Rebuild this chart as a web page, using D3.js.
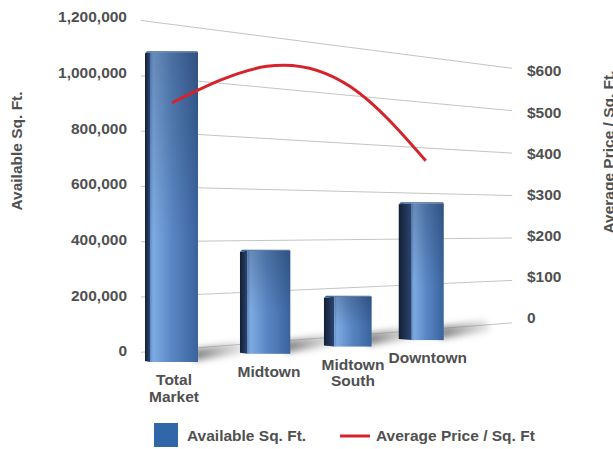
<!DOCTYPE html>
<html>
<head>
<meta charset="utf-8">
<script src="https://cdn.jsdelivr.net/npm/d3@7"></script>
<style>
  body { margin: 0; background: #fff; }
  svg { display: block; font-family: "Liberation Sans", Arial, sans-serif; font-weight: bold; }
</style>
</head>
<body>
<div id="wrapper"></div>
<script>
// data
const categories = ["Total Market", "Midtown", "Midtown South", "Downtown"];
const categoryLines = [["Total", "Market"], ["Midtown"], ["Midtown", "South"], ["Downtown"]];
const availableSqFt = [1100000, 390000, 200000, 580000];
const avgPrice = [460, 543, 520, 380];
const leftTicks = [0, 200000, 400000, 600000, 800000, 1000000, 1200000];
const rightTicks = [0, 100, 200, 300, 400, 500, 600];

const width = 613, height = 449;
const textColor = "#505050";

const svg = d3.select("#wrapper").append("svg")
    .attr("width", width)
    .attr("height", height);

const defs = svg.append("defs");

const frontGrad = defs.append("linearGradient").attr("id", "front");
frontGrad.append("stop").attr("offset", "0").attr("stop-color", "#5d8dcc");
frontGrad.append("stop").attr("offset", "0.07").attr("stop-color", "#7eaae2");
frontGrad.append("stop").attr("offset", "0.45").attr("stop-color", "#5a87c4");
frontGrad.append("stop").attr("offset", "1").attr("stop-color", "#3a639d");

const sideGrad = defs.append("linearGradient").attr("id", "side");
sideGrad.append("stop").attr("offset", "0").attr("stop-color", "#131f33");
sideGrad.append("stop").attr("offset", "1").attr("stop-color", "#2b4674");

const shadeGrad = defs.append("linearGradient").attr("id", "shade")
    .attr("x1", 0).attr("x2", 0).attr("y1", 0).attr("y2", 1);
shadeGrad.append("stop").attr("offset", "0").attr("stop-color", "#000").attr("stop-opacity", 0.18);
shadeGrad.append("stop").attr("offset", "0.6").attr("stop-color", "#000").attr("stop-opacity", 0);

const shadowGrad = defs.append("linearGradient").attr("id", "shadowfade");
shadowGrad.append("stop").attr("offset", "0").attr("stop-color", "#6e6e6e").attr("stop-opacity", 0.9);
shadowGrad.append("stop").attr("offset", "1").attr("stop-color", "#9a9a9a").attr("stop-opacity", 0.2);

defs.append("filter").attr("id", "blur")
    .attr("x", "-50%").attr("y", "-50%").attr("width", "200%").attr("height", "200%")
    .append("feGaussianBlur").attr("stdDeviation", 3);

// back wall: value -> y at its left and right edges
const wallLeft = d3.scaleLinear().domain([0, 1200000]).range([352, 21]);
const wallRight = d3.scaleLinear().domain([0, 1200000]).range([323, 68]);
const wallT = d3.scaleLinear().domain([145, 510]).range([0, 1]);
const wallY = (v, x) => {
    const t = wallT(x);
    return wallLeft(v) + (wallRight(v) - wallLeft(v)) * t;
};
const priceToWall = d3.scaleLinear().domain([0, 600]).range([0, 1200000]);

// front (bar) plane
const floorY = d3.scaleLinear().domain([174, 429]).range([362, 340]);
const depthGain = 1.04;
const barH = (v, x) => (wallY(0, x) - wallY(v, x)) * depthGain;

// categories along a receding floor
const catIndex = d3.scalePoint().domain(categories).range([0, 3]);
const persp = (i) => 145 + 101.2 * i / (1 + 0.0655 * i);
const sideW = d3.scaleLinear().domain([0, 3]).range([5, 13]);
const frontW = d3.scaleLinear().domain([0, 3]).range([48, 32]);

const bars = categories.map((c, i) => {
    const k = catIndex(c);
    const x = persp(k);
    const sw = sideW(k), fw = frontW(k);
    const fx = x + sw;
    const cx = fx + fw / 2;
    const bottom = floorY(cx);
    const top = bottom - barH(availableSqFt[i], cx);
    return { c, i, x, sw, fw, fx, cx, bottom, top, lines: categoryLines[i] };
});

// gridlines
const gx0 = 141, gx1 = 512;
svg.append("g").selectAll("line")
    .data(leftTicks)
    .join("line")
    .attr("x1", gx0).attr("y1", d => wallY(d, gx0))
    .attr("x2", gx1).attr("y2", d => wallY(d, gx1))
    .attr("stroke", "#c4c4c4")
    .attr("stroke-width", 1);

// axis labels
const leftLabel = d3.scaleLinear().domain([0, 1200000]).range([351, 17]);
const rightLabel = d3.scaleLinear().domain([0, 600]).range([318, 71]);

const yAxisL = svg.append("g")
    .attr("transform", "translate(127,0)")
    .call(d3.axisLeft(leftLabel).tickValues(leftTicks).tickSize(0).tickPadding(0).tickFormat(d3.format(",")));
const yAxisR = svg.append("g")
    .attr("transform", "translate(527,0)")
    .call(d3.axisRight(rightLabel).tickValues(rightTicks).tickSize(0).tickPadding(0)
        .tickFormat(d => d === 0 ? "0" : "$" + d));
[yAxisL, yAxisR].forEach(a => {
    a.select(".domain").remove();
    a.selectAll("text")
        .attr("fill", textColor)
        .style("font-size", "15.5px")
        .style("font-family", "'Liberation Sans', Arial, sans-serif")
        .style("font-weight", "bold");
});

// shadows on the floor
svg.append("g").attr("filter", "url(#blur)").selectAll("path")
    .data(bars)
    .join("path")
    .attr("d", b => {
        const xr = b.fx + b.fw;
        return `M${xr - 4},${b.bottom - 1} L${xr - 4},${b.bottom - 13} L${xr + 42},${b.bottom - 20} L${xr + 48},${b.bottom - 9} Z`;
    })
    .attr("fill", "url(#shadowfade)");

// bars
const barG = svg.append("g").selectAll("g")
    .data(bars)
    .join("g");

barG.append("path")
    .attr("d", b => `M${b.x},${b.top + 1} L${b.fx},${b.top} L${b.fx},${b.bottom} L${b.x},${b.bottom - 1} Z`)
    .attr("fill", "url(#side)");

barG.append("rect")
    .attr("x", b => b.fx)
    .attr("y", b => b.top)
    .attr("width", b => b.fw)
    .attr("height", b => b.bottom - b.top)
    .attr("fill", "url(#front)");

barG.append("rect")
    .attr("x", b => b.fx)
    .attr("y", b => b.top)
    .attr("width", b => b.fw)
    .attr("height", b => b.bottom - b.top)
    .attr("fill", "url(#shade)");

barG.append("path")
    .attr("d", b => `M${b.x},${b.top + 1} L${b.x + 2},${b.top - 1} L${b.fx + b.fw - 1},${b.top - 1} L${b.fx + b.fw},${b.top} L${b.fx},${b.top} Z`)
    .attr("fill", "#3f6499");

// price line
const linePts = bars.map((b, i) => {
    const x = b.cx - 2;
    return [x, floorY(x) - barH(priceToWall(avgPrice[i]), x)];
});
svg.append("path")
    .attr("d", d3.line().curve(d3.curveNatural)(linePts))
    .attr("fill", "none")
    .attr("stroke", "#d6232b")
    .attr("stroke-width", 3);

// category labels
const catG = svg.append("g").selectAll("text")
    .data(bars)
    .join("text")
    .attr("text-anchor", "middle")
    .attr("fill", textColor)
    .style("font-size", "15.5px");
catG.selectAll("tspan")
    .data(b => b.lines.map((t, j) => ({ t, j, b })))
    .join("tspan")
    .attr("x", d => d.b.cx)
    .attr("y", d => d.b.bottom + 23 + d.j * 16.5)
    .text(d => d.t);

// axis titles
svg.append("text")
    .attr("transform", "translate(22,151) rotate(-90)")
    .attr("text-anchor", "middle")
    .attr("fill", textColor)
    .style("font-size", "15.5px")
    .text("Available Sq. Ft.");

svg.append("text")
    .attr("transform", "translate(614,152) rotate(-90)")
    .attr("text-anchor", "middle")
    .attr("fill", textColor)
    .style("font-size", "15.5px")
    .text("Average Price / Sq. Ft.");

// legend
const legend = svg.append("g");
legend.append("rect")
    .attr("x", 154).attr("y", 423)
    .attr("width", 24).attr("height", 24)
    .attr("fill", "#2f67a8");
legend.append("text")
    .attr("x", 187).attr("y", 441)
    .attr("fill", textColor)
    .style("font-size", "15.5px")
    .text("Available Sq. Ft.");
legend.append("line")
    .attr("x1", 340).attr("x2", 370)
    .attr("y1", 436).attr("y2", 436)
    .attr("stroke", "#d6232b")
    .attr("stroke-width", 3);
legend.append("text")
    .attr("x", 376).attr("y", 441)
    .attr("fill", textColor)
    .style("font-size", "15.5px")
    .text("Average Price / Sq. Ft");
</script>
</body>
</html>
